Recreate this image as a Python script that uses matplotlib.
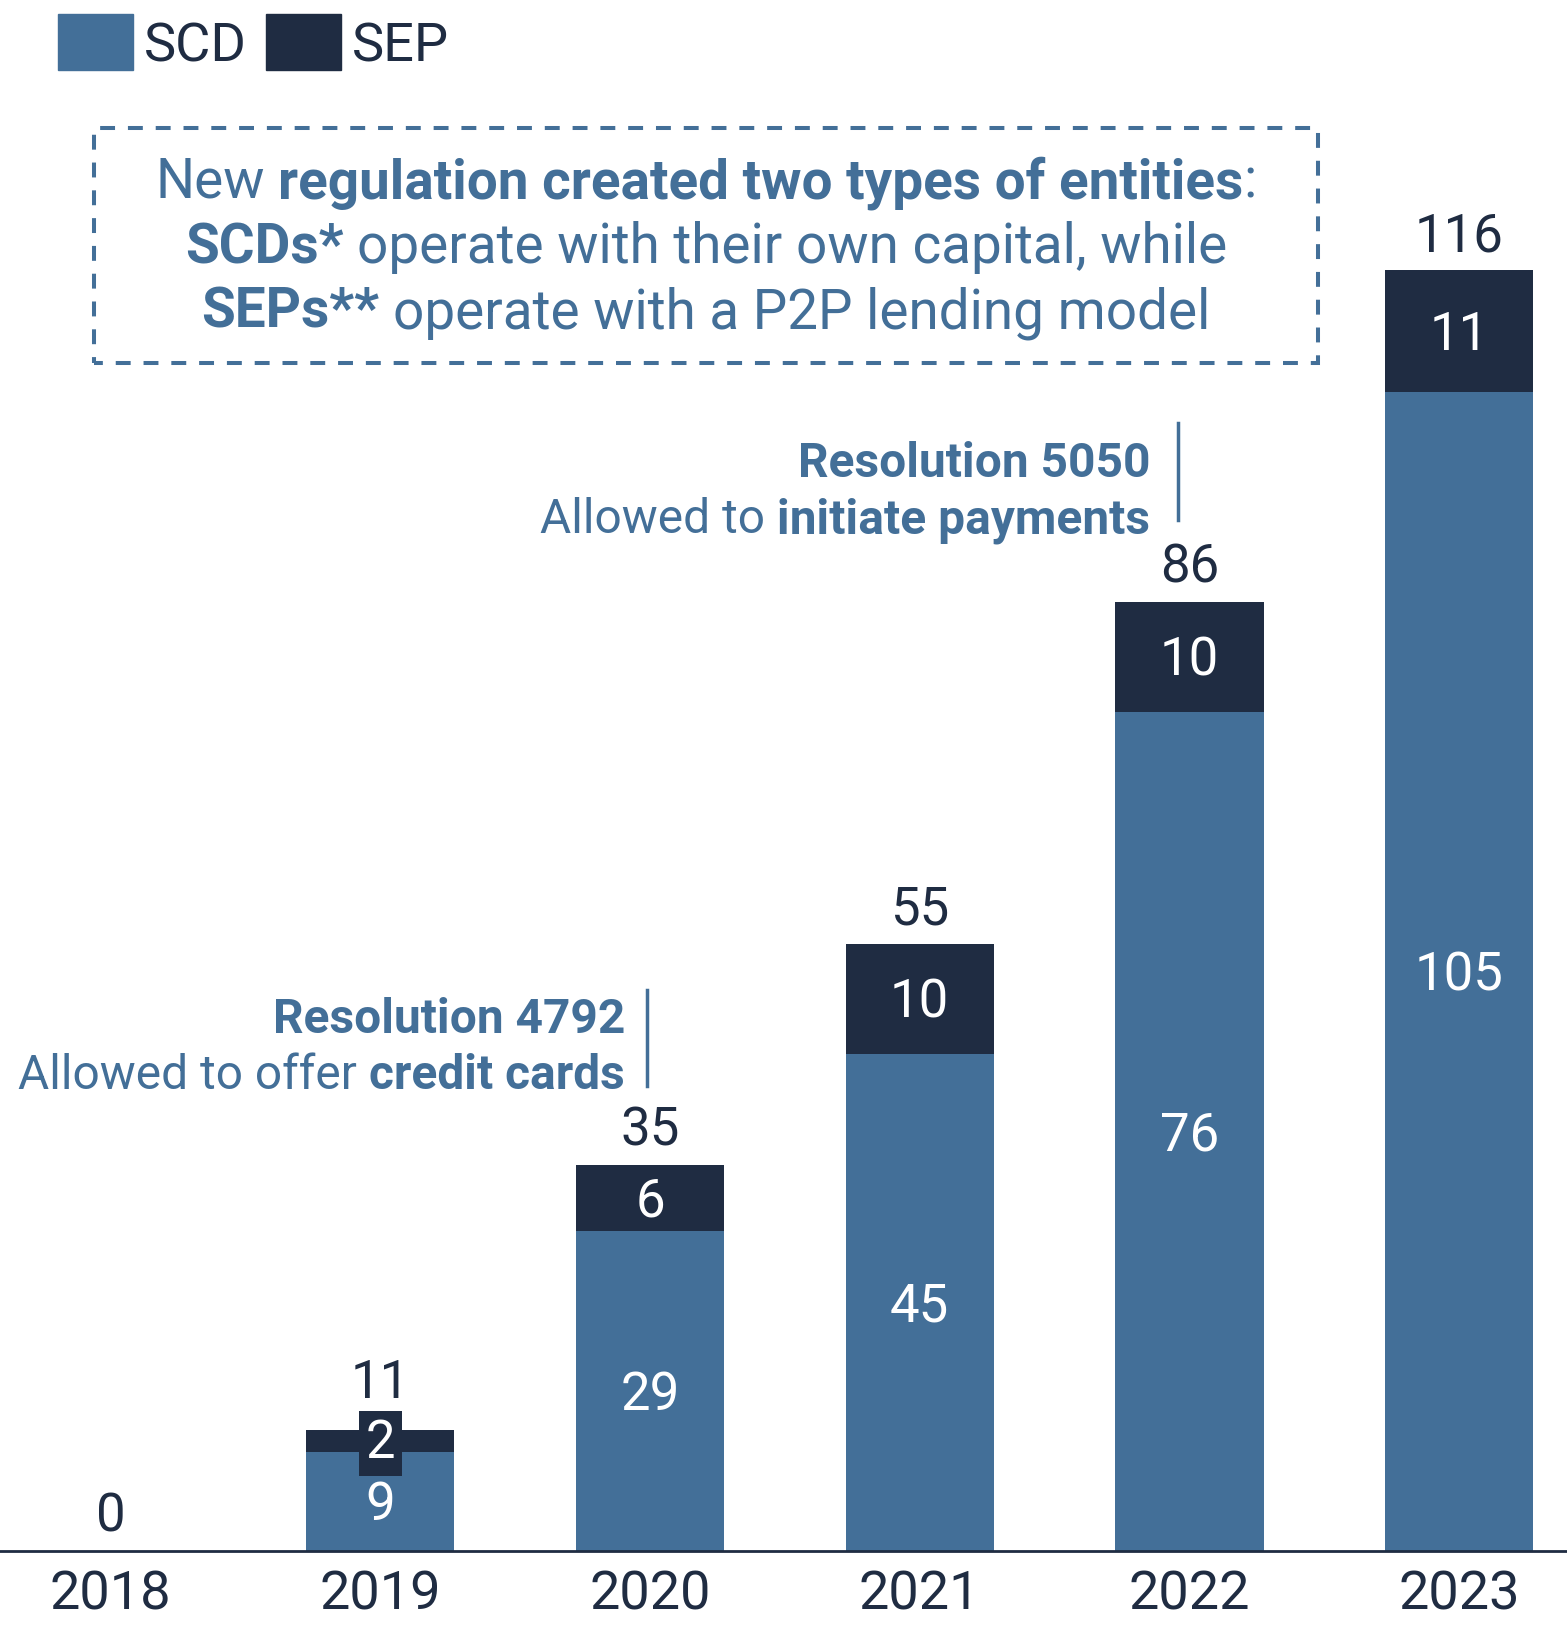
import matplotlib.pyplot as plt
from matplotlib.patches import Rectangle
from matplotlib.lines import Line2D

plt.rcParams['font.family'] = ['Roboto', 'DejaVu Sans']

years = ['2018', '2019', '2020', '2021', '2022', '2023']
scd = [0, 9, 29, 45, 76, 105]
sep = [0, 2, 6, 10, 10, 11]
totals = [a + b for a, b in zip(scd, sep)]

C_SCD = '#436f98'
C_SEP = '#1f2c42'

W, H = 1567, 1625
fig = plt.figure(figsize=(W / 100, H / 100), dpi=100)
ax = fig.add_axes([0, 74 / H, 1, 1551 / H])

x = range(len(years))
ax.bar(x, scd, width=0.55, color=C_SCD)
ax.bar(x, sep, bottom=scd, width=0.55, color=C_SEP)
ax.set_xlim(-0.41, 5.40)
ax.set_ylim(0, 140.5)

for i in x:
    small = 0 < sep[i] < 4
    # lift the total when the segment label sticks out of a thin segment
    off = 23 if small else 14
    ax.annotate(str(totals[i]), (i, totals[i]), xytext=(0, off), textcoords='offset points',
                ha='center', va='baseline', fontsize=38, color=C_SEP)
    if scd[i] > 0:
        ax.annotate(str(scd[i]), (i, scd[i] / 2), xytext=(0, -3), textcoords='offset points',
                    ha='center', va='center', fontsize=38, color='white')
    if sep[i] > 0:
        kw = {}
        if small:
            kw['bbox'] = dict(boxstyle='square,pad=0.13', fc=C_SEP, ec='none')
        ax.annotate(str(sep[i]), (i, scd[i] + sep[i] / 2), xytext=(0, -2 if small else -3),
                    textcoords='offset points', ha='center', va='center',
                    fontsize=38, color='white', **kw)

ax.set_xticks(list(x))
ax.set_xticklabels(years, fontsize=39, color=C_SEP)
ax.tick_params(axis='x', length=0, pad=13)
ax.set_yticks([])
for s in ['top', 'left', 'right']:
    ax.spines[s].set_visible(False)
ax.spines['bottom'].set_color(C_SEP)
ax.spines['bottom'].set_linewidth(2)


def fx(px):
    return px / W


def fy(py):
    return 1 - py / H


# legend drawn by hand in pixel positions
for (x0, col, lab) in [(58, C_SCD, 'SCD'), (266, C_SEP, 'SEP')]:
    fig.patches.append(Rectangle((fx(x0), fy(70)), 75 / W, 56 / H, transform=fig.transFigure,
                                 color=col))
    fig.text(fx(x0 + 86), fy(42), lab, fontsize=39, color=C_SEP, va='center_baseline')

renderer = fig.canvas.get_renderer()
probe_a = fig.text(0, 0, 'xx', fontsize=10)
probe_b = fig.text(0, 0, 'x x', fontsize=10)
space10 = probe_b.get_window_extent(renderer).width - probe_a.get_window_extent(renderer).width
probe_a.remove()
probe_b.remove()


def rich_line(segs, xpx, ypx, size, ha='center', color=C_SCD):
    # segs: (text, weight, space_before)
    texts = []
    for s, w, sp in segs:
        t = fig.text(0, fy(ypx), s, fontsize=size, fontweight=w, color=color, va='baseline')
        texts.append((t, sp))
    sp_w = space10 * size / 10
    widths = [t.get_window_extent(renderer).width for t, _ in texts]
    total = sum(widths) + sum(sp_w for _, sp in texts if sp)
    pos = xpx - total / 2 if ha == 'center' else xpx - total
    for (t, sp), w in zip(texts, widths):
        if sp:
            pos += sp_w
        t.set_x(fx(pos))
        pos += w


# dashed note box
fig.patches.append(Rectangle((fx(94), fy(363)), (1318 - 94) / W, (363 - 128) / H,
                             transform=fig.transFigure, fill=False, ec=C_SCD, lw=2.9,
                             linestyle=(1.5, (3.7, 3.2))))
rich_line([('New', 'normal', False), ('regulation created two types of entities', 'bold', True),
           (':', 'normal', False)], 706, 198, 39.5)
rich_line([('SCDs*', 'bold', False), ('operate with their own capital, while', 'normal', True)],
          706, 263, 39.5)
rich_line([('SEPs**', 'bold', False), ('operate with a P2P lending model', 'normal', True)],
          706, 328, 39.5)

# resolution callouts
rich_line([('Resolution 4792', 'bold', False)], 625, 1033, 34.5, ha='right')
rich_line([('Allowed to offer', 'normal', False), ('credit cards', 'bold', True)], 625, 1089, 34.5, ha='right')
fig.lines.append(Line2D([fx(647), fx(647)], [fy(990), fy(1086)], transform=fig.transFigure,
                        color=C_SCD, lw=2.5))

rich_line([('Resolution 5050', 'bold', False)], 1150, 477, 34.5, ha='right')
rich_line([('Allowed to', 'normal', False), ('initiate payments', 'bold', True)], 1150, 533, 34.5, ha='right')
fig.lines.append(Line2D([fx(1178), fx(1178)], [fy(423), fy(520)], transform=fig.transFigure,
                        color=C_SCD, lw=2.5))

fig.savefig('out.png', dpi=100)
